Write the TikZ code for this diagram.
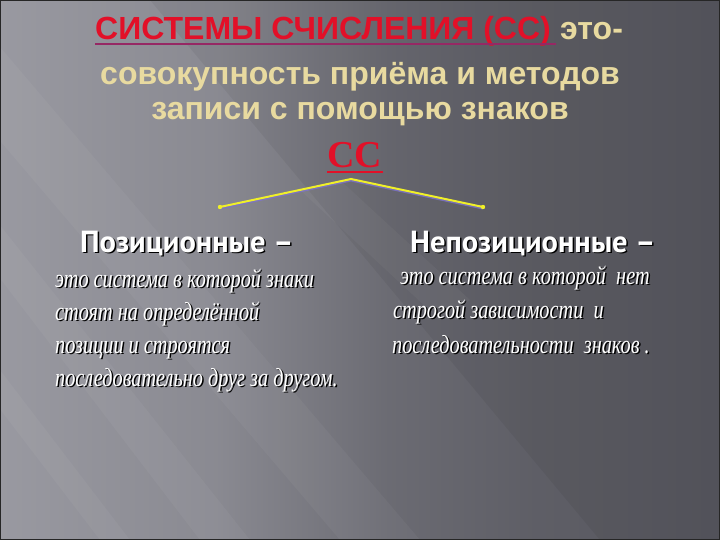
\documentclass[tikz,border=0pt]{standalone}
\usepackage{fontspec}
\setmainfont{Liberation Serif}
\newfontfamily\titlefont{Liberation Sans}
\newfontfamily\headfont{PT Sans}
\newfontfamily\handfont[FakeStretch=0.78]{Liberation Serif}
\usetikzlibrary{positioning}

\definecolor{sysred}{RGB}{226,16,40}
\definecolor{ulpurple}{RGB}{150,40,100}
\definecolor{titletan}{RGB}{232,218,160}
\definecolor{lineyellow}{RGB}{240,240,40}
\definecolor{lilac}{RGB}{125,115,205}

% slide background: light on the left, dark on the right
\pgfdeclarehorizontalshading{slidebg}{100bp}{%
  rgb(0bp)=(0.60,0.60,0.63); rgb(25bp)=(0.60,0.60,0.63);
  rgb(40bp)=(0.54,0.54,0.57); rgb(52bp)=(0.42,0.42,0.45);
  rgb(62bp)=(0.37,0.37,0.40); rgb(75bp)=(0.34,0.34,0.37);
  rgb(100bp)=(0.34,0.34,0.37)}

% text with a dark drop shadow
\newcommand{\shtext}[1]{\makebox[0pt][l]{\kern1.5pt\raisebox{-1.5pt}{\color{black}#1}}#1}

\tikzset{
  title/.style={inner sep=0pt, anchor=base, font=\titlefont\bfseries\fontsize{32}{38}\selectfont},
  cc/.style={inner sep=0pt, anchor=base, text=sysred, font=\bfseries\fontsize{38}{44}\selectfont},
  head/.style={inner sep=0pt, anchor=base west, text=white, font=\headfont\bfseries\fontsize{30.5}{34}\selectfont},
  body/.style={inner sep=0pt, anchor=base west, text=white, font=\handfont\itshape\fontsize{26}{30}\selectfont},
  beam/.style={white, opacity=0.04},
  yline/.style={lineyellow, line width=2pt},
  yshadow/.style={lilac, line width=2pt, opacity=0.8}
}

\begin{document}
\begin{tikzpicture}[x=1pt,y=-1pt]
    %background
    \useasboundingbox (0,0) rectangle (720,540);
    \shade[shading=slidebg] (0,0) rectangle (720,540);
    \fill[beam] (-120,0) -- (-40,0) -- (420,540) -- (340,540) -- cycle;
    \fill[beam] (-60,200) -- (-20,200) -- (250,540) -- (200,540) -- cycle;
    \fill[beam] (-160,200) -- (-130,200) -- (130,540) -- (100,540) -- cycle;
    \fill[beam] (300,190) -- (340,180) -- (470,300) -- (440,320) -- cycle;
    \fill[black, opacity=0.05] (150,0) -- (720,0) -- (720,540) -- (600,540) -- cycle;
    \draw[black!85, line width=2.5pt] (0,0) rectangle (720,540);

    %title
    \node[title, anchor=base west, text=sysred] (sys) at (95,40) {СИСТЕМЫ СЧИСЛЕНИЯ (СС)};
    \draw[ulpurple, line width=1.5pt] ([yshift=-4pt]sys.base west) -- ([yshift=-4pt,xshift=5pt]sys.base east);
    \node[title, anchor=base west, text=titletan] (eto) at ([xshift=9pt]sys.base east) {это-};
    \node[title, text=titletan] (sum) at (360,85) {совокупность приёма и методов};
    \node[title, text=titletan] (rec) at (360,120) {записи с помощью знаков};

    %CC and branches
    \node[cc] (cc) at (355,168) {СС};
    \draw[sysred, line width=2pt] ([yshift=-4pt]cc.base west) -- ([yshift=-4pt]cc.base east);
    \coordinate (apex) at (351,179);
    \coordinate (lend) at (220,207);
    \coordinate (rend) at (483,207);
    \draw[yshadow] ([yshift=-1.5pt]lend) -- ([yshift=-1.5pt]apex) -- ([yshift=-1.5pt]rend);
    \draw[yline] (lend) -- (apex) -- (rend);
    \fill[lineyellow] (lend) circle (2.2) (rend) circle (2.2);

    %positional
    \node[head] (pos) at (80,252) {\shtext{Позиционные –}};
    \node[body] (l1) at (55,287) {\shtext{это система в которой знаки}};
    \node[body] (l2) at (55,320) {\shtext{стоят на определённой}};
    \node[body] (l3) at (55,353) {\shtext{позиции и строятся}};
    \node[body] (l4) at (55,386) {\shtext{последовательно друг за другом.}};

    %non-positional
    \node[head] (nonpos) at (410,252) {\shtext{Непозиционные –}};
    \node[body] (r1) at (400,284) {\shtext{это система в которой\ \ нет}};
    \node[body] (r2) at (393,318) {\shtext{строгой зависимости\ \ и}};
    \node[body] (r3) at (392,353) {\shtext{последовательности\ \ знаков .}};
\end{tikzpicture}
\end{document}
